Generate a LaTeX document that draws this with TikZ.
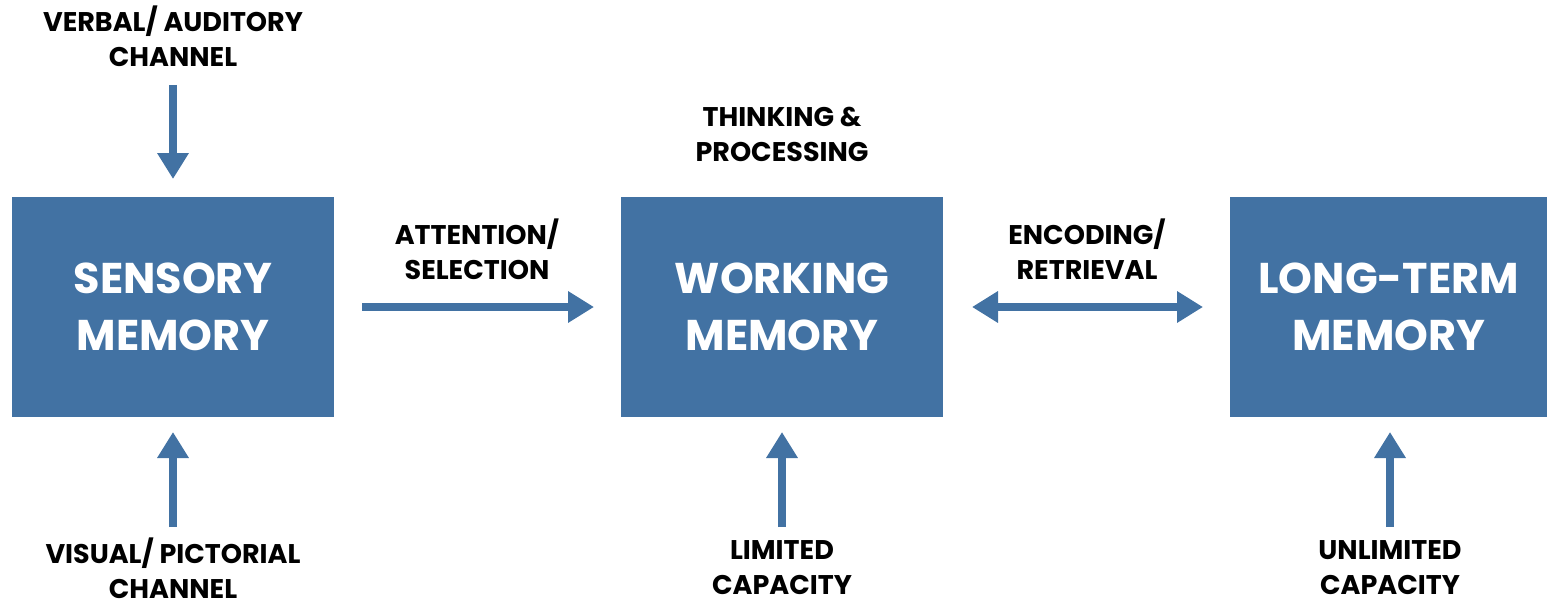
\documentclass[tikz,border=0pt]{standalone}
\usepackage{fontspec}
\setmainfont{Poppins}
\usetikzlibrary{arrows.meta}
\definecolor{boxblue}{RGB}{66,114,163}
\begin{document}
\begin{tikzpicture}[x=1pt,y=-1pt,
  memorybox/.style={fill=boxblue, text=white, minimum width=322pt, minimum height=220pt, inner sep=0pt, align=center, font=\fontsize{43}{57}\selectfont\bfseries, anchor=north west},
  lbl/.style={align=center, text=black, font=\fontsize{27}{35}\selectfont\bfseries, inner sep=0pt},
  arr/.style={draw=boxblue, line width=8pt, -{Triangle[width=30pt,length=26pt]}},
  dblarr/.style={draw=boxblue, line width=8pt, {Triangle[width=30pt,length=26pt]}-{Triangle[width=30pt,length=26pt]}}]
\useasboundingbox (0,0) rectangle (1547,607);
\node[memorybox] (sm) at (12,197) {SENSORY\\MEMORY};
\node[memorybox] (wm) at (621,197) {WORKING\\MEMORY};
\node[memorybox, minimum width=317pt] (ltm) at (1230,197) {LONG-TERM\\MEMORY};
\node[lbl] (verbal) at (173,36) {VERBAL/ AUDITORY\\CHANNEL};
\node[lbl] (visual) at (173,568) {VISUAL/ PICTORIAL\\CHANNEL};
\node[lbl] (think) at (782,134) {THINKING \&\\PROCESSING};
\node[lbl] (limited) at (782,568) {LIMITED\\CAPACITY};
\node[lbl] (unlimited) at (1390,568) {UNLIMITED\\CAPACITY};
\node[lbl] (attn) at (477,249) {ATTENTION/\\SELECTION};
\node[lbl] (enc) at (1087,249) {ENCODING/\\RETRIEVAL};
\coordinate (a1s) at (173,85); \coordinate (a1e) at (173,179);
\coordinate (a2s) at (173,527); \coordinate (a2e) at (173,432);
\coordinate (a3s) at (782,527); \coordinate (a3e) at (782,432);
\coordinate (a4s) at (1390,527); \coordinate (a4e) at (1390,432);
\coordinate (a5s) at (362,307); \coordinate (a5e) at (594,307);
\coordinate (a6s) at (972,307); \coordinate (a6e) at (1203,307);
\draw[arr] (a1s) -- (a1e);
\draw[arr] (a2s) -- (a2e);
\draw[arr] (a3s) -- (a3e);
\draw[arr] (a4s) -- (a4e);
\draw[arr] (a5s) -- (a5e);
\draw[dblarr] (a6s) -- (a6e);
\end{tikzpicture}
\end{document}
